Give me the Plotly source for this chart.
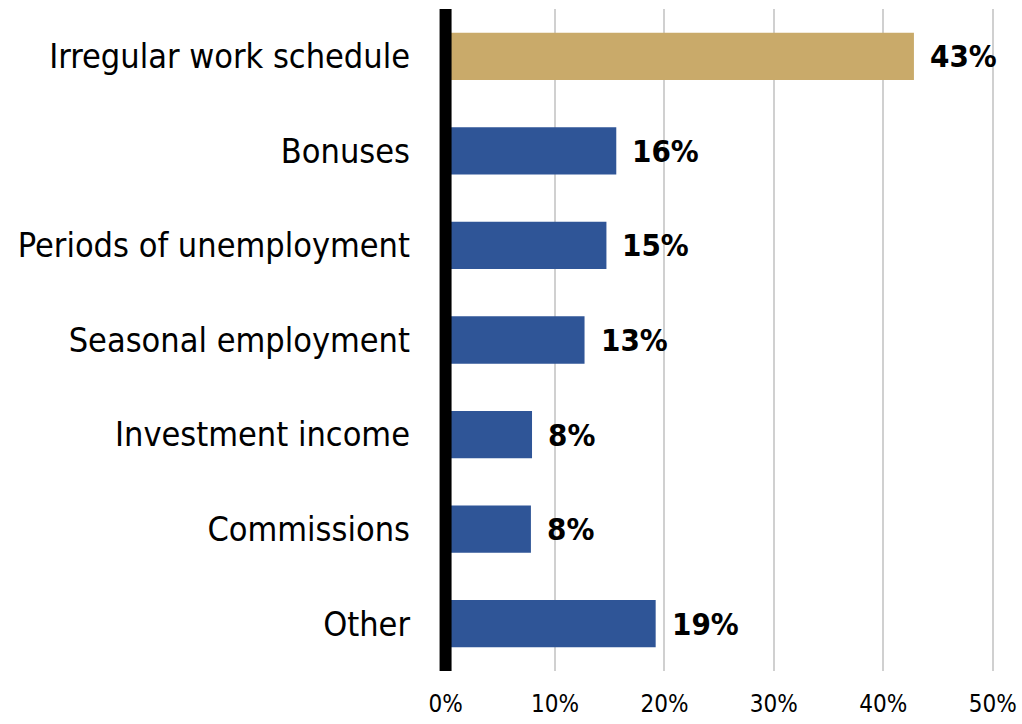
import plotly.graph_objects as go

# income sources, top to bottom
categories = ["Irregular work schedule", "Bonuses", "Periods of unemployment",
              "Seasonal employment", "Investment income", "Commissions", "Other"]
shares = [42.8, 15.6, 14.7, 12.7, 7.9, 7.8, 19.2]
share_labels = ["43%", "16%", "15%", "13%", "8%", "8%", "19%"]
bar_colors = ["#C9AA6A"] + ["#2F5597"] * 6

x_ticks = [0, 10, 20, 30, 40, 50]
x_ticktext = ["0%", "10%", "20%", "30%", "40%", "50%"]

FONT = "DejaVu Sans Condensed, Liberation Sans Narrow, Arial Narrow, sans-serif"

fig = go.Figure(go.Bar(
    x=shares, y=categories, orientation="h",
    marker=dict(color=bar_colors, line=dict(width=0)),
    width=0.5,
    hoverinfo="skip",
))

# value labels to the right of each bar
for c, v, lab in zip(categories, shares, share_labels):
    fig.add_annotation(x=v, y=c, text="<b>%s</b>" % lab, showarrow=False,
                       xanchor="left", xshift=14,
                       font=dict(family=FONT, size=31, color="black"))

# heavy black baseline at 0
fig.add_shape(type="line", xref="x", yref="paper", x0=0, x1=0, y0=0, y1=1,
              line=dict(color="black", width=12), layer="above")

fig.update_layout(
    width=1022, height=724,
    margin=dict(l=439, r=26, t=9, b=53),
    plot_bgcolor="white", paper_bgcolor="white",
    showlegend=False,
    bargap=0.5,
    font=dict(family=FONT, color="black"),
)
fig.update_xaxes(range=[-0.6, 50.3], tickvals=x_ticks, ticktext=x_ticktext,
                 showgrid=True, gridcolor="#D0D0D0", gridwidth=2,
                 zeroline=False, showline=False, ticks="",
                 ticklabelstandoff=16, automargin=False,
                 tickfont=dict(family=FONT, size=24, color="black"))
fig.update_yaxes(autorange="reversed", showgrid=False, zeroline=False,
                 showline=False, ticks="", ticklabelstandoff=28,
                 automargin=False,
                 tickfont=dict(family=FONT, size=34, color="black"))

# drop the default 8px body margin so the figure sits at the window corner
fig.write_html("out.html", config={"displayModeBar": False},
               post_script="document.body.style.margin='0';")
